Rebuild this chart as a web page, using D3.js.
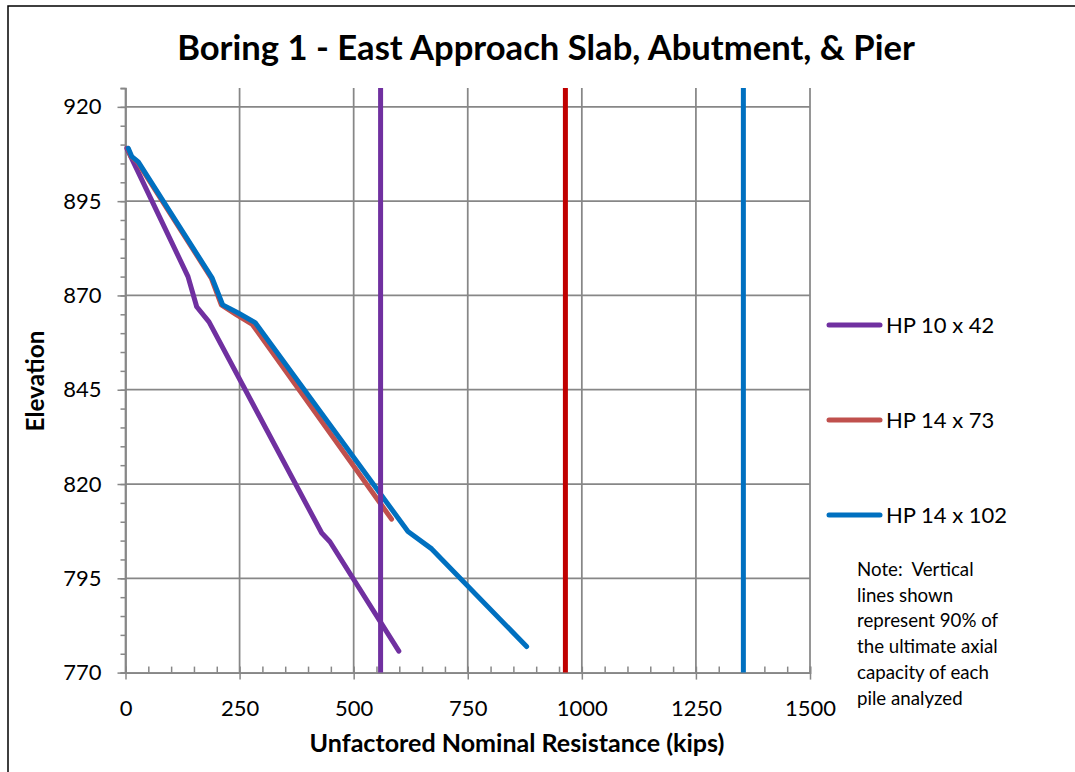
<!DOCTYPE html>
<html>
<head>
<meta charset="utf-8">
<script src="https://cdn.jsdelivr.net/npm/d3@7"></script>
<style>
  body { margin: 0; background: #fff; }
  svg text { font-family: Lato, "Open Sans", sans-serif; fill: #000; }
</style>
</head>
<body>
<div id="chart"></div>
<script>
// Chart data
const xTicks = [0, 250, 500, 750, 1000, 1250, 1500];
const yTicks = [770, 795, 820, 845, 870, 895, 920];
const seriesNames = ["HP 10 x 42", "HP 14 x 73", "HP 14 x 102"];
const seriesColors = ["#7030A0", "#C0504D", "#0070C0"];

// [resistance (kips), elevation]
const hp10x42 = [[3, 909], [137, 875], [156, 867], [183, 863], [430, 807], [448, 804.7], [599, 775.7]];
const hp14x73 = [[5, 909], [12, 906.8], [26, 905.4], [188, 874.6], [210, 867.5], [242, 865], [278, 862.3], [583, 810.7]];
const hp14x102 = [[6, 909], [14, 906.8], [28, 905.4], [190, 874.6], [213, 867.5], [246, 865.4], [284, 862.8], [619, 807.4], [671, 802.8], [879, 776.9]];

// 90% of the ultimate axial capacity of each pile
const capacities = [559, 964, 1354];
const capacityColors = ["#7030A0", "#C00000", "#0070C0"];

const noteLines = ["Note:  Vertical", "lines shown", "represent 90% of", "the ultimate axial", "capacity of each", "pile analyzed"];

const width = 1075, height = 772;
const gridColor = "#878787";

const svg = d3.select("#chart")
    .append("svg")
    .attr("width", width)
    .attr("height", height);

const x = d3.scaleLinear().domain([0, 1500]).range([125.5, 810]);
const y = d3.scaleLinear().domain([770, 925]).range([672.6, 88]);

// Fit a text element to a target width by scaling its font size
const fitText = (sel, target) => {
    const size = parseFloat(sel.attr("font-size"));
    const len = sel.node().getComputedTextLength();
    sel.attr("font-size", size * target / len);
};

// Outer chart border
svg.append("path")
    .attr("d", `M8,${height + 2} L8,6 L${width + 2},6`)
    .attr("fill", "none")
    .attr("stroke", "#000")
    .attr("stroke-width", 1.5);

// Title
const title = svg.append("text")
    .attr("x", 546)
    .attr("y", 60)
    .attr("text-anchor", "middle")
    .attr("font-size", 32)
    .attr("font-weight", "bold")
    .text("Boring 1 - East Approach Slab, Abutment, & Pier");
fitText(title, 738);

// Grid lines
const grid = svg.append("g");
grid.selectAll(".hgrid")
    .data(yTicks.filter(d => d > 770))
    .enter()
    .append("line")
    .attr("x1", x(0))
    .attr("x2", x(1500))
    .attr("y1", d => y(d))
    .attr("y2", d => y(d))
    .attr("stroke", gridColor)
    .attr("stroke-width", 1.75);

grid.selectAll(".vgrid")
    .data(xTicks.filter(d => d > 0))
    .enter()
    .append("line")
    .attr("x1", d => x(d))
    .attr("x2", d => x(d))
    .attr("y1", y(925))
    .attr("y2", y(770))
    .attr("stroke", gridColor)
    .attr("stroke-width", 1.75);

// Axes
const styleAxis = g => {
    g.select(".domain").attr("stroke", gridColor).attr("stroke-width", 1.75);
    g.selectAll(".tick line").attr("stroke", gridColor).attr("stroke-width", 1.5);
    g.selectAll(".tick text")
        .attr("font-family", "Lato, 'Open Sans', sans-serif")
        .attr("font-size", 22)
        .attr("fill", "#000");
};

// minor ticks first, so the major axes sit on top
svg.append("g")
    .attr("transform", `translate(0,${y(770)})`)
    .call(d3.axisBottom(x).tickValues(d3.range(0, 1501, 50)).tickSize(-6).tickFormat(""))
    .call(styleAxis);

svg.append("g")
    .attr("transform", `translate(${x(0)},0)`)
    .call(d3.axisLeft(y).tickValues(d3.range(770, 926, 5)).tickSize(5).tickFormat(""))
    .call(styleAxis);

svg.append("g")
    .attr("transform", `translate(0,${y(770)})`)
    .call(d3.axisBottom(x).tickValues(xTicks).tickFormat(d3.format("d"))
        .tickSize(7).tickPadding(21).tickSizeOuter(0))
    .call(styleAxis);

svg.append("g")
    .attr("transform", `translate(${x(0)},0)`)
    .call(d3.axisLeft(y).tickValues(yTicks).tickFormat(d3.format("d"))
        .tickSize(8).tickPadding(16).tickSizeOuter(0))
    .call(styleAxis)
    .call(g => g.select(".domain").attr("d", `M0,${y(925)}V${y(770)}`));

// Axis titles
const xTitle = svg.append("text")
    .attr("x", 517)
    .attr("y", 752)
    .attr("text-anchor", "middle")
    .attr("font-size", 21)
    .attr("font-weight", "bold")
    .text("Unfactored Nominal Resistance (kips)");
fitText(xTitle, 415);

const yTitle = svg.append("text")
    .attr("transform", "translate(44,381) rotate(-90)")
    .attr("text-anchor", "middle")
    .attr("font-size", 20)
    .attr("font-weight", "bold")
    .text("Elevation");
fitText(yTitle, 101);

// Resistance curves
const line = d3.line()
    .x(d => x(d[0]))
    .y(d => y(d[1]));

const curves = [hp10x42, hp14x73, hp14x102];
svg.append("g")
    .selectAll("path")
    .data(curves)
    .enter()
    .append("path")
    .attr("d", d => line(d))
    .attr("fill", "none")
    .attr("stroke", (d, i) => seriesColors[i])
    .attr("stroke-width", 5)
    .attr("stroke-linejoin", "round")
    .attr("stroke-linecap", "round");

// Capacity lines
svg.append("g")
    .selectAll("line")
    .data(capacities)
    .enter()
    .append("line")
    .attr("x1", d => x(d))
    .attr("x2", d => x(d))
    .attr("y1", y(925))
    .attr("y2", y(770))
    .attr("stroke", (d, i) => capacityColors[i])
    .attr("stroke-width", 5);

// Legend
const legendY = [325, 420, 515];
const legend = svg.append("g");
seriesNames.forEach((name, i) => {
    legend.append("line")
        .attr("x1", 829)
        .attr("x2", 880)
        .attr("y1", legendY[i])
        .attr("y2", legendY[i])
        .attr("stroke", seriesColors[i])
        .attr("stroke-width", 5)
        .attr("stroke-linecap", "round");

    legend.append("text")
        .attr("x", 886)
        .attr("y", legendY[i] + 8)
        .attr("font-size", 22)
        .text(name);
});

// Note below the legend
svg.append("g")
    .selectAll("text")
    .data(noteLines)
    .enter()
    .append("text")
    .attr("x", 857)
    .attr("y", (d, i) => 576 + i * 25.7)
    .attr("font-size", 18.7)
    .attr("xml:space", "preserve")
    .style("white-space", "pre")
    .text(d => d);
</script>
</body>
</html>
